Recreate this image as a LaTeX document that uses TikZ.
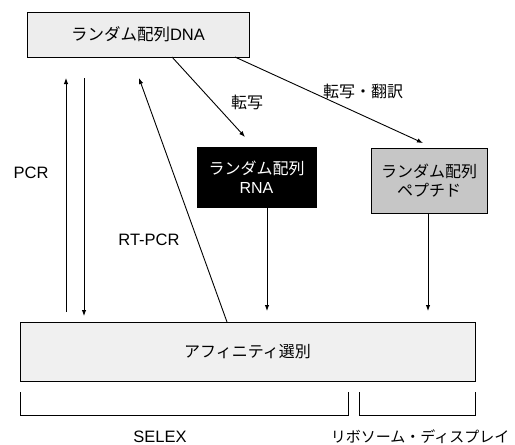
\documentclass[tikz,border=0pt]{standalone}
\usepackage{fontspec}
\setmainfont{Liberation Sans}
\newfontfamily\jp{Noto Sans CJK JP}
\usetikzlibrary{arrows.meta}
\begin{document}
\begin{tikzpicture}[x=1pt,y=-1pt,
  box/.style={draw=black,line width=1pt,rectangle,inner sep=0pt,align=center},
  arr/.style={line width=0.9pt,-{Latex[length=6pt,width=4.5pt]}},
  ln/.style={line width=0.9pt},
  lbl/.style={font=\fontsize{16.5}{18}\selectfont,inner sep=0pt},
  jlbl/.style={font=\fontsize{16}{17}\selectfont\jp,inner sep=0pt}]
\useasboundingbox (0,0) rectangle (515,445);
% boxes
\node[box,fill=gray!14,minimum width=222pt,minimum height=45pt,font=\fontsize{16.5}{18}\selectfont] (dna) at (138,34.5)
  {{\jp ランダム配列}DNA};
\node[box,fill=black,text=white,minimum width=119pt,minimum height=60pt,font=\fontsize{16}{19}\selectfont] (rna) at (256.5,177)
  {{\jp ランダム配列}\\RNA};
\node[box,fill=gray!45,minimum width=116pt,minimum height=65pt,font=\fontsize{16}{19}\selectfont\jp] (pep) at (429,180.5)
  {ランダム配列\\ペプチド};
\node[box,fill=gray!12,minimum width=455pt,minimum height=59pt,font=\fontsize{16}{18}\selectfont\jp] (sel) at (247.5,351.5)
  {アフィニティ選別};
% free ends
\coordinate (pcrUs) at (66,312);
\coordinate (pcrUe) at (66,78);
\coordinate (pcrDs) at (84,78);
\coordinate (pcrDe) at (84,316);
\coordinate (rtS) at (227,322);
\coordinate (rtE) at (139,78);
\coordinate (trS) at (172,57);
\coordinate (trE) at (245,137);
\coordinate (ttS) at (235,57);
\coordinate (ttE) at (423,143);
\coordinate (rnaS) at (267,207);
\coordinate (rnaE) at (267,311);
\coordinate (pepS) at (428,213);
\coordinate (pepE) at (428,311);
% arrows
\draw[arr] (pcrUs) -- (pcrUe);
\draw[arr] (pcrDs) -- (pcrDe);
\draw[arr] (rtS) -- (rtE);
\draw[arr] (trS) -- (trE);
\draw[arr] (ttS) -- (ttE);
\draw[arr] (rnaS) -- (rnaE);
\draw[arr] (pepS) -- (pepE);
% brackets
\draw[ln] (20,392) -- (20,415) -- (348,415) -- (348,392);
\draw[ln] (359,392) -- (359,415) -- (475,415) -- (475,392);
% labels
\node[lbl] (pcr) at (31,173) {PCR};
\node[lbl] (rtpcr) at (149,240) {RT-PCR};
\node[jlbl] (tensha) at (247,102) {転写};
\node[jlbl] (honyaku) at (363,91) {転写・翻訳};
\node[lbl] (selex) at (160,437) {SELEX};
\node[jlbl,font=\fontsize{15}{16}\selectfont\jp] (ribo) at (420,437) {リボソーム・ディスプレイ};
\end{tikzpicture}
\end{document}
